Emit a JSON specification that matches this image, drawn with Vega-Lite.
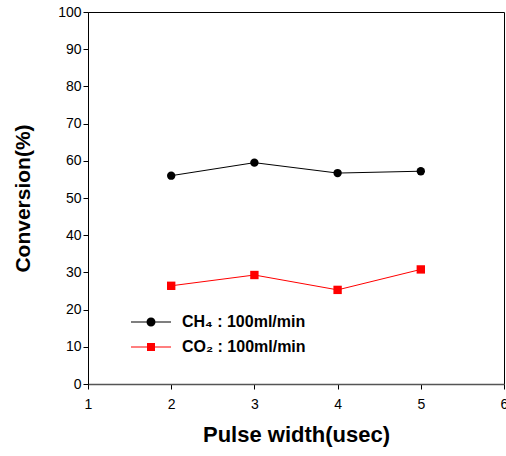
{
  "$schema": "https://vega.github.io/schema/vega-lite/v6.json",
  "width": 416,
  "height": 372,
  "autosize": "none",
  "padding": {"left": 88, "top": 12, "right": 2, "bottom": 72},
  "background": "white",
  "config": {
    "font": "Liberation Sans",
    "view": {"stroke": "black", "strokeWidth": 1},
    "axis": {"grid": false, "domainColor": "black", "tickColor": "black", "labelColor": "black", "titleColor": "black", "labelFont": "Liberation Sans", "titleFont": "Liberation Sans"},
    "legend": {"orient": "none", "legendX": 55, "legendY": 302, "padding": 0, "labelFontSize": 16, "labelFontWeight": "bold", "labelColor": "black", "labelOffset": 23, "rowPadding": 9, "symbolSize": 100, "symbolStrokeWidth": 0, "symbolOpacity": 1}
  },
  "data": {
    "values": [
      {"pw": 2, "conv": 56.0, "series": "CH₄ : 100ml/min"},
      {"pw": 3, "conv": 59.5, "series": "CH₄ : 100ml/min"},
      {"pw": 4, "conv": 56.7, "series": "CH₄ : 100ml/min"},
      {"pw": 5, "conv": 57.2, "series": "CH₄ : 100ml/min"},
      {"pw": 2, "conv": 26.4, "series": "CO₂ : 100ml/min"},
      {"pw": 3, "conv": 29.3, "series": "CO₂ : 100ml/min"},
      {"pw": 4, "conv": 25.3, "series": "CO₂ : 100ml/min"},
      {"pw": 5, "conv": 30.8, "series": "CO₂ : 100ml/min"}
    ]
  },
  "encoding": {
    "x": {"field": "pw", "type": "quantitative", "scale": {"domain": [1, 6], "nice": false, "zero": false},
      "axis": {"title": "Pulse width(usec)", "values": [1, 2, 3, 4, 5, 6], "tickSize": 5, "labelFontSize": 14, "labelPadding": 8, "titleFontSize": 22, "titleFontWeight": "bold", "titlePadding": 13, "labelFlush": false, "domainColor": "#555555", "domainWidth": 1.5}},
    "y": {"field": "conv", "type": "quantitative", "scale": {"domain": [0, 100], "nice": false},
      "axis": {"title": "Conversion(%)", "values": [0, 10, 20, 30, 40, 50, 60, 70, 80, 90, 100], "tickSize": 5, "labelFontSize": 14, "labelPadding": 2, "titleFontSize": 21, "titleFontWeight": "bold", "titlePadding": 24, "labelFlush": false}}
  },
  "layer": [
    {"mark": {"type": "line", "strokeWidth": 1},
      "encoding": {"color": {"field": "series", "type": "nominal", "scale": {"domain": ["CH₄ : 100ml/min", "CO₂ : 100ml/min"], "range": ["black", "#ff0000"]}, "legend": null}}},
    {"mark": {"type": "point", "filled": true, "size": 70, "opacity": 1},
      "encoding": {
        "color": {"field": "series", "type": "nominal", "scale": {"domain": ["CH₄ : 100ml/min", "CO₂ : 100ml/min"], "range": ["black", "#ff0000"]}, "legend": null},
        "shape": {"field": "series", "type": "nominal", "scale": {"domain": ["CH₄ : 100ml/min", "CO₂ : 100ml/min"], "range": ["circle", "square"]}, "legend": null}}},
    {"mark": {"type": "point", "filled": true, "size": 70, "opacity": 0},
      "encoding": {
        "color": {"field": "series", "type": "nominal", "scale": {"domain": ["CH₄ : 100ml/min", "CO₂ : 100ml/min"], "range": ["black", "#ff0000"]}, "legend": {"title": null}},
        "shape": {"field": "series", "type": "nominal", "scale": {"domain": ["CH₄ : 100ml/min", "CO₂ : 100ml/min"], "range": ["M-4,-0.1H4V0.1H-4ZM-0.9,0A0.9,0.9 0 1,1 0.9,0A0.9,0.9 0 1,1 -0.9,0Z", "M-4,-0.1H4V0.1H-4ZM-0.8,-0.8H0.8V0.8H-0.8Z"]}, "legend": {"title": null}}}}
  ],
  "resolve": {"scale": {"color": "independent", "shape": "independent"}}
}
